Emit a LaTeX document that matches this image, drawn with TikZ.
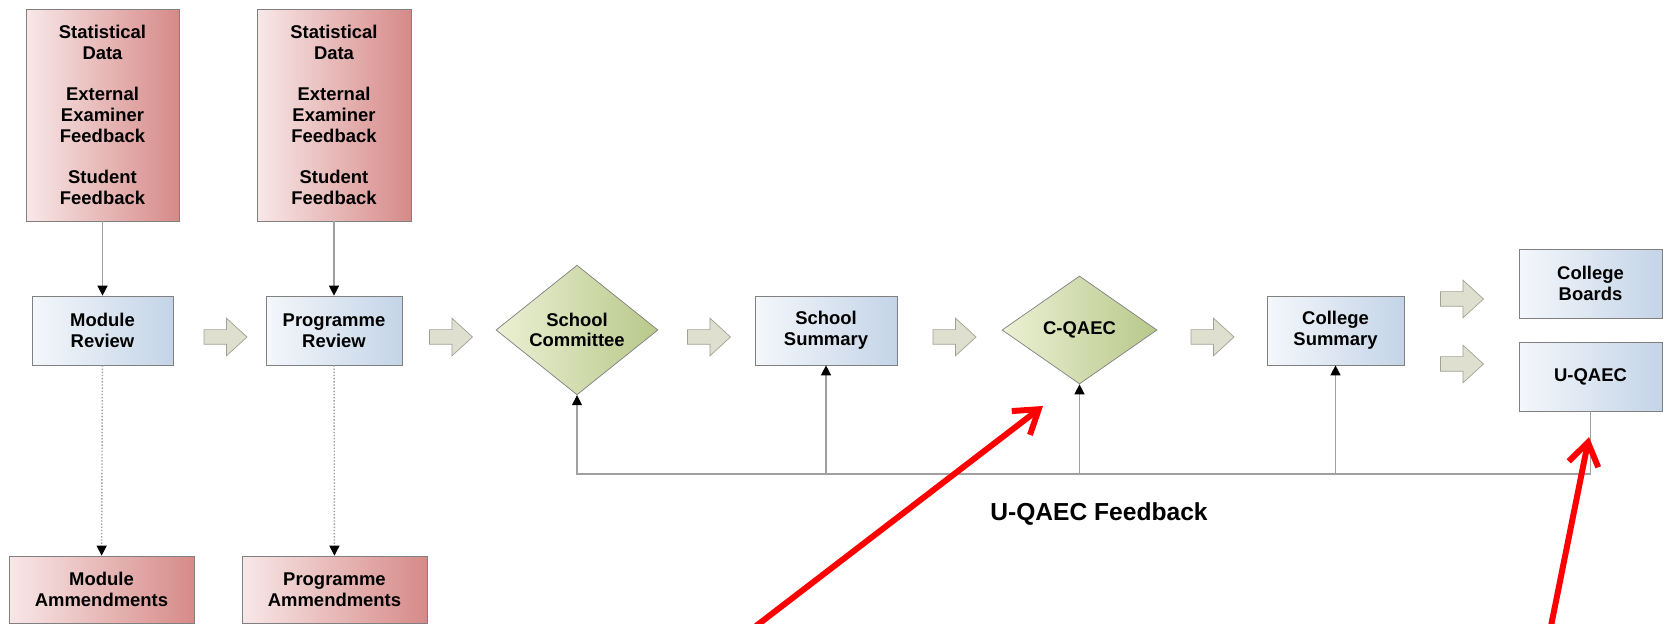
\documentclass[tikz,border=0pt]{standalone}
\usepackage{fontspec}
\setmainfont{Liberation Sans}
\usetikzlibrary{shapes.geometric,shapes.arrows,arrows.meta,positioning}

\definecolor{redlight}{RGB}{248,232,232}
\definecolor{reddark}{RGB}{214,138,136}
\definecolor{bluelight}{RGB}{244,247,251}
\definecolor{bluedark}{RGB}{196,212,231}
\definecolor{greenlight}{RGB}{236,240,212}
\definecolor{greendark}{RGB}{184,200,138}
\definecolor{arrowfill}{RGB}{222,223,206}
\definecolor{arrowedge}{RGB}{160,162,150}
\definecolor{edgegray}{RGB}{128,128,128}
\definecolor{linegray}{RGB}{160,160,160}

\begin{document}
\begin{tikzpicture}[x=0.02cm,y=-0.02cm,
    txt/.style={font=\bfseries\fontsize{10.5}{11.8}\selectfont,align=center,inner sep=0pt},
    source/.style={txt,draw=edgegray,left color=redlight,right color=reddark},
    review/.style={txt,draw=edgegray,left color=bluelight,right color=bluedark,minimum height=1.38cm},
    board/.style={txt,shape=diamond,draw=edgegray,left color=greenlight,right color=greendark},
    fwd/.style={shape=single arrow,draw=arrowedge,fill=arrowfill,inner xsep=0pt,inner ysep=0.14cm,
                minimum height=0.86cm,single arrow head extend=0.23cm,single arrow head indent=0pt,
                single arrow tip angle=85},
    feed/.style={draw=linegray,line width=0.8pt,-{Triangle[length=0.2cm,width=0.2cm,color=black]}},
    note/.style={red,line width=3.4pt,-{Straight Barb[length=0.45cm,width=0.6cm]}}]
%      \draw[help lines] (0,0) grid[step=100] (1669,624);
      \useasboundingbox (0,0) rectangle (1669,624);

      \node[source,minimum width=3.06cm,minimum height=4.24cm] (data1) at (102.5,115)
           {Statistical\\Data\\[11.8pt]External\\Examiner\\Feedback\\[11.8pt]Student\\Feedback};
      \node[source,minimum width=3.08cm,minimum height=4.24cm] (data2) at (334,115)
           {Statistical\\Data\\[11.8pt]External\\Examiner\\Feedback\\[11.8pt]Student\\Feedback};

      \node[review,minimum width=2.82cm] (modrev)  at (102.5,330.5) {Module\\Review};
      \node[review,minimum width=2.72cm] (progrev) at (334,330.5)   {Programme\\Review};

      \node[source,minimum width=3.7cm,minimum height=1.34cm] (modamm)  at (101.5,589.5) {Module\\Ammendments};
      \node[source,minimum width=3.7cm,minimum height=1.34cm] (progamm) at (334.5,589.5) {Programme\\Ammendments};

      \node[board,minimum width=3.24cm,minimum height=2.2cm] (schcom) at (577,330) {School\\Committee};
      \node[review,minimum width=2.84cm] (schsum) at (826,330.5) {School\\Summary};
      \node[board,minimum width=3.1cm,minimum height=2.16cm] (cqaec) at (1079.5,330) {C-QAEC};
      \node[review,minimum width=2.74cm] (colsum) at (1335.5,330.5) {College\\Summary};
      \node[review,minimum width=2.86cm] (colboards) at (1590.5,283.5) {College\\Boards};
      \node[review,minimum width=2.86cm] (uqaec) at (1590.5,376.5) {U-QAEC};

      % block arrows
      \node[fwd] (f1) at (221.5,337) {};
      \node[fwd] (f2) at (447,337) {};
      \node[fwd] (f3) at (705,337) {};
      \node[fwd] (f4) at (950.5,337) {};
      \node[fwd] (f5) at (1208.5,337) {};
      \node[fwd] (f6) at (1458,299) {};
      \node[fwd] (f7) at (1458,364) {};

      \draw[feed] (data1) -- (modrev);
      \draw[feed] (data2) -- (progrev);
      \draw[feed,densely dotted] (modrev) -- (modamm);
      \draw[feed,densely dotted] (progrev) -- (progamm);

      % feedback loop
      \coordinate (loop) at (577,474);
      \draw[feed] (uqaec.south) |- (loop) -- (schcom.south);
      \draw[feed] (schsum.south |- loop) -- (schsum.south);
      \draw[feed] (cqaec.south |- loop) -- (cqaec.south);
      \draw[feed] (colsum.south |- loop) -- (colsum.south);
      \node[font=\bfseries\fontsize{14}{16}\selectfont] (fblabel) at (1099,514) {U-QAEC Feedback};

      \coordinate (n1s) at (756,626);
      \coordinate (n1e) at (1043,406);
      \coordinate (n2s) at (1551,626);
      \coordinate (n2e) at (1589,437);
      \draw[note] (n1s) -- (n1e);
      \draw[note] (n2s) -- (n2e);
\end{tikzpicture}
\end{document}
